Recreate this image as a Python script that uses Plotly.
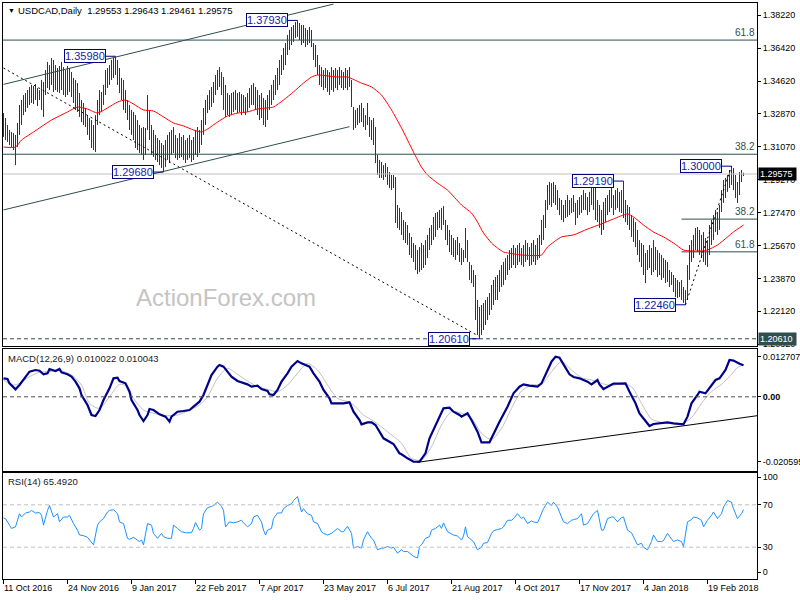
import plotly.graph_objects as go

# ---------------- data ----------------
highs = [
    1.3289,1.3262,1.3224,1.3197,1.3186,1.3180,1.3170,1.3235,1.3333,1.3360,
    1.3387,1.3398,1.3414,1.3431,1.3442,1.3436,1.3447,1.3425,1.3414,1.3469,
    1.3458,1.3523,1.3567,1.3550,1.3588,1.3578,1.3550,1.3534,1.3545,1.3567,
    1.3539,1.3523,1.3545,1.3534,1.3512,1.3480,1.3469,1.3452,1.3398,1.3360,
    1.3344,1.3317,1.3278,1.3262,1.3251,1.3224,1.3278,1.3360,1.3414,1.3404,
    1.3442,1.3523,1.3534,1.3550,1.3578,1.3588,1.3598,1.3578,1.3534,1.3480,
    1.3469,1.3414,1.3360,1.3333,1.3306,1.3295,1.3278,1.3251,1.3224,1.3208,
    1.3213,1.3208,1.3387,1.3306,1.3224,1.3197,1.3170,1.3153,1.3142,1.3126,
    1.3115,1.3142,1.3170,1.3186,1.3197,1.3213,1.3170,1.3153,1.3180,1.3159,
    1.3170,1.3142,1.3153,1.3170,1.3142,1.3159,1.3197,1.3213,1.3197,1.3251,
    1.3317,1.3360,1.3387,1.3414,1.3431,1.3458,1.3496,1.3523,1.3539,1.3512,
    1.3485,1.3442,1.3398,1.3387,1.3398,1.3404,1.3414,1.3398,1.3404,1.3393,
    1.3387,1.3376,1.3398,1.3425,1.3442,1.3452,1.3431,1.3414,1.3387,1.3398,
    1.3371,1.3360,1.3387,1.3414,1.3442,1.3469,1.3496,1.3534,1.3578,1.3605,
    1.3643,1.3670,1.3714,1.3741,1.3757,1.3768,1.3784,1.3793,1.3779,1.3768,
    1.3768,1.3752,1.3741,1.3757,1.3741,1.3670,1.3659,1.3605,1.3550,1.3539,
    1.3523,1.3534,1.3523,1.3512,1.3539,1.3523,1.3534,1.3523,1.3539,1.3523,
    1.3512,1.3534,1.3523,1.3539,1.3469,1.3322,1.3306,1.3317,1.3333,1.3344,
    1.3317,1.3278,1.3344,1.3268,1.3251,1.3262,1.3213,1.3061,1.3034,1.3023,
    1.3006,1.3017,1.2995,1.2968,1.2952,1.2952,1.2941,1.2789,1.2773,1.2751,
    1.2707,1.2696,1.2680,1.2637,1.2615,1.2582,1.2571,1.2544,1.2560,1.2582,
    1.2571,1.2598,1.2626,1.2664,1.2680,1.2724,1.2745,1.2751,1.2762,1.2773,
    1.2783,1.2707,1.2680,1.2653,1.2626,1.2609,1.2598,1.2615,1.2582,1.2555,
    1.2544,1.2664,1.2598,1.2479,1.2462,1.2435,1.2408,1.2272,1.2234,1.2245,
    1.2256,1.2272,1.2288,1.2310,1.2354,1.2381,1.2397,1.2408,1.2435,1.2462,
    1.2479,1.2500,1.2517,1.2544,1.2555,1.2571,1.2555,1.2571,1.2582,1.2555,
    1.2571,1.2598,1.2582,1.2560,1.2582,1.2598,1.2571,1.2609,1.2626,1.2707,
    1.2734,1.2816,1.2898,1.2914,1.2908,1.2914,1.2898,1.2870,1.2827,1.2816,
    1.2789,1.2816,1.2843,1.2816,1.2827,1.2843,1.2800,1.2816,1.2832,1.2843,
    1.2870,1.2854,1.2832,1.2860,1.2881,1.2898,1.2908,1.2816,1.2789,1.2762,
    1.2805,1.2827,1.2843,1.2870,1.2881,1.2843,1.2870,1.2881,1.2860,1.2870,
    1.2919,1.2816,1.2789,1.2778,1.2734,1.2718,1.2696,1.2653,1.2598,1.2582,
    1.2571,1.2528,1.2544,1.2571,1.2555,1.2598,1.2560,1.2544,1.2528,1.2517,
    1.2500,1.2490,1.2479,1.2435,1.2424,1.2408,1.2392,1.2381,1.2370,1.2381,
    1.2343,1.2326,1.2462,1.2571,1.2598,1.2626,1.2664,1.2669,1.2653,1.2626,
    1.2642,1.2609,1.2598,1.2680,1.2707,1.2734,1.2762,1.2751,1.2789,1.2870,
    1.2925,1.2936,1.2952,1.2979,1.3000,1.2990,1.2952,1.2914,1.2968,1.2979,
    1.29643,
]
lows = [
    1.3159,1.3142,1.3132,1.3115,1.3104,1.3088,1.3006,1.3104,1.3170,1.3224,
    1.3278,1.3295,1.3317,1.3333,1.3344,1.3338,1.3360,1.3327,1.3360,1.3306,
    1.3268,1.3387,1.3425,1.3414,1.3442,1.3404,1.3414,1.3404,1.3398,1.3414,
    1.3387,1.3376,1.3387,1.3404,1.3376,1.3344,1.3306,1.3295,1.3268,1.3240,
    1.3224,1.3213,1.3170,1.3142,1.3099,1.3088,1.3077,1.3224,1.3278,1.3295,
    1.3333,1.3387,1.3425,1.3442,1.3469,1.3480,1.3496,1.3442,1.3398,1.3360,
    1.3306,1.3289,1.3251,1.3197,1.3170,1.3142,1.3099,1.3088,1.3072,1.3061,
    1.3034,1.3061,1.3197,1.3142,1.3061,1.3050,1.3034,1.3023,1.3006,1.2990,
    1.2968,1.2995,1.3034,1.3017,1.3061,1.3072,1.3044,1.3034,1.3044,1.3050,
    1.3034,1.3017,1.3034,1.3044,1.3023,1.3034,1.3061,1.3050,1.3072,1.3115,
    1.3170,1.3224,1.3289,1.3306,1.3322,1.3344,1.3387,1.3414,1.3431,1.3387,
    1.3306,1.3268,1.3278,1.3268,1.3278,1.3295,1.3306,1.3289,1.3295,1.3278,
    1.3289,1.3278,1.3295,1.3317,1.3333,1.3333,1.3306,1.3278,1.3251,1.3262,
    1.3224,1.3213,1.3251,1.3306,1.3333,1.3360,1.3387,1.3414,1.3442,1.3496,
    1.3523,1.3550,1.3605,1.3632,1.3659,1.3676,1.3697,1.3703,1.3686,1.3659,
    1.3670,1.3648,1.3659,1.3670,1.3648,1.3578,1.3539,1.3496,1.3442,1.3431,
    1.3414,1.3425,1.3404,1.3387,1.3414,1.3404,1.3425,1.3414,1.3442,1.3425,
    1.3414,1.3425,1.3414,1.3431,1.3322,1.3197,1.3208,1.3224,1.3235,1.3240,
    1.3213,1.3197,1.3224,1.3159,1.3142,1.3115,1.3017,1.2952,1.2936,1.2936,
    1.2925,1.2941,1.2898,1.2881,1.2870,1.2881,1.2691,1.2664,1.2653,1.2626,
    1.2598,1.2582,1.2571,1.2517,1.2500,1.2479,1.2435,1.2413,1.2424,1.2435,
    1.2446,1.2462,1.2500,1.2544,1.2571,1.2598,1.2615,1.2653,1.2664,1.2653,
    1.2680,1.2598,1.2571,1.2533,1.2517,1.2506,1.2490,1.2517,1.2479,1.2462,
    1.2479,1.2500,1.2479,1.2381,1.2364,1.2343,1.2163,1.2082,1.2061,1.2082,
    1.2109,1.2136,1.2163,1.2190,1.2218,1.2245,1.2272,1.2272,1.2316,1.2343,
    1.2354,1.2381,1.2408,1.2435,1.2446,1.2462,1.2446,1.2462,1.2479,1.2462,
    1.2452,1.2479,1.2490,1.2457,1.2462,1.2479,1.2462,1.2490,1.2500,1.2571,
    1.2598,1.2664,1.2762,1.2789,1.2778,1.2800,1.2789,1.2762,1.2734,1.2707,
    1.2696,1.2718,1.2724,1.2734,1.2745,1.2751,1.2680,1.2718,1.2734,1.2745,
    1.2762,1.2762,1.2734,1.2751,1.2789,1.2762,1.2707,1.2696,1.2664,1.2626,
    1.2653,1.2696,1.2734,1.2751,1.2773,1.2734,1.2762,1.2773,1.2751,1.2745,
    1.2718,1.2696,1.2680,1.2653,1.2615,1.2588,1.2560,1.2517,1.2479,1.2452,
    1.2408,1.2364,1.2435,1.2446,1.2408,1.2424,1.2435,1.2397,1.2408,1.2381,
    1.2392,1.2364,1.2370,1.2343,1.2354,1.2316,1.2288,1.2283,1.2288,1.2272,
    1.2256,1.2246,1.2272,1.2381,1.2479,1.2500,1.2544,1.2533,1.2517,1.2500,
    1.2479,1.2462,1.2452,1.2517,1.2571,1.2598,1.2642,1.2626,1.2653,1.2751,
    1.2800,1.2827,1.2860,1.2881,1.2898,1.2870,1.2827,1.2800,1.2843,1.2914,
    1.29461,
]
assert len(highs) == len(lows)

ma_idx = [0,6,9,15,24,32,37,42,47,52,57,61,65,70,75,80,85,90,95,99,
          102,107,112,117,122,127,132,135,140,145,150,154,157,162,167,172,179,184,189,194,
          199,205,209,212,217,222,229,234,237,240,244,247,250,252,259,269,272,279,285,292,
          299,305,312,315,320,325,330,335,340,344,349,352,357,362,365,370]
ma_val = [1.3104,1.3104,1.3142,1.3186,1.3251,1.3295,1.3322,1.3311,1.3289,1.3317,
          1.3349,1.3360,1.3338,1.3306,1.3300,1.3268,1.3235,1.3219,1.3197,1.3186,
          1.3202,1.3240,1.3273,1.3289,1.3295,1.3311,1.3317,1.3322,1.3360,1.3404,
          1.3452,1.3485,1.3496,1.3491,1.3485,1.3485,1.3452,1.3431,1.3387,1.3306,
          1.3208,1.3077,1.2995,1.2952,1.2908,1.2870,1.2789,1.2745,1.2696,1.2637,
          1.2582,1.2555,1.2533,1.2528,1.2517,1.2517,1.2560,1.2615,1.2626,1.2658,
          1.2686,1.2713,1.2740,1.2724,1.2680,1.2642,1.2615,1.2582,1.2544,1.2539,
          1.2539,1.2544,1.2571,1.2615,1.2642,1.2680]

macd_idx = [0,2,3,6,8,11,13,16,18,20,22,23,26,28,29,32,34,36,38,39,42,44,46,48,50,53,55,57,58,61,
            63,64,67,68,70,72,73,75,77,78,81,83,84,87,90,93,95,98,100,102,104,107,108,110,112,114,117,119,122,124,
            127,129,132,133,135,137,139,142,144,147,149,153,155,158,160,163,164,167,170,173,175,178,179,182,184,186,188,190,193,195,
            198,199,202,205,208,211,213,217,220,223,225,228,229,232,234,237,239,243,245,248,252,255,258,260,263,267,269,272,274,276,
            278,280,283,285,288,292,294,297,298,300,303,305,308,311,313,316,318,321,323,325,328,332,335,338,340,342,344,347,348,351,
            353,356,358,361,363,365,368,370]
macd_val = [0.00586,0.00564,0.00427,0.00237,0.00374,0.00639,0.00797,0.00850,0.00829,0.00713,
            0.00744,0.00882,0.00818,0.00882,0.00776,0.00713,0.00639,0.00480,0.00269,0.00057,
            -0.00260,-0.00577,-0.00609,-0.00419,-0.00101,0.00269,0.00586,0.00607,0.00501,0.00427,
            0.00163,-0.00101,-0.00419,-0.00577,-0.00768,-0.00577,-0.00387,-0.00419,-0.00524,-0.00556,
            -0.00630,-0.00789,-0.00630,-0.00472,-0.00450,-0.00419,-0.00313,-0.00154,0.00057,0.00374,
            0.00691,0.00956,0.01009,0.00956,0.00797,0.00639,0.00501,0.00459,0.00395,0.00321,
            0.00353,0.00247,0.00184,0.00078,0.00057,0.00216,0.00480,0.00744,0.00956,0.01135,
            0.01061,0.00956,0.00744,0.00480,0.00216,-0.00049,-0.00207,-0.00207,-0.00207,-0.00175,
            -0.00472,-0.00736,-0.00873,-0.00810,-0.00810,-0.00894,-0.01106,-0.01317,-0.01423,-0.01497,
            -0.01793,-0.01824,-0.01951,-0.02057,-0.02060,-0.01792,-0.01317,-0.00789,-0.00366,-0.00345,
            -0.00472,-0.00577,-0.00630,-0.00524,-0.00736,-0.01106,-0.01444,-0.01444,-0.01159,-0.00789,
            -0.00313,0.00110,0.00321,0.00395,0.00353,0.00321,0.00427,0.00850,0.01114,0.01271,
            0.01241,0.01030,0.00713,0.00628,0.00586,0.00480,0.00395,0.00533,0.00395,0.00247,
            0.00353,0.00417,0.00417,0.00427,0.00163,-0.00207,-0.00524,-0.00789,-0.00926,-0.00862,
            -0.00841,-0.00810,-0.00841,-0.00873,-0.00873,-0.00630,-0.00207,0.00057,0.00163,0.00110,
            0.00290,0.00533,0.00586,0.00850,0.01167,0.01150,0.01050,0.01002]
assert len(macd_idx) == len(macd_val)

sig_idx = [0,5,8,13,18,23,28,34,39,43,48,53,58,62,65,70,75,82,87,92,
           98,102,107,112,117,122,127,132,137,142,147,152,157,162,167,172,175,180,185,192,
           199,204,209,214,219,224,229,234,239,244,249,254,259,264,269,274,279,284,289,294,
           299,304,309,314,319,324,329,334,339,344,349,354,359,364,367,370]
sig_val = [0.00533,0.00374,0.00427,0.00639,0.00776,0.00797,0.00829,0.00691,0.00374,-0.00207,
           -0.00366,0.00004,0.00395,0.00321,-0.00049,-0.00419,-0.00524,-0.00598,-0.00577,-0.00450,
           -0.00260,0.00004,0.00586,0.00903,0.00713,0.00501,0.00321,0.00237,0.00163,0.00374,
           0.00744,0.01061,0.00850,0.00374,-0.00049,-0.00154,-0.00260,-0.00577,-0.00768,-0.01106,
           -0.01476,-0.01951,-0.02004,-0.01581,-0.00894,-0.00472,-0.00524,-0.00683,-0.01159,-0.01349,
           -0.01000,-0.00366,0.00184,0.00374,0.00395,0.00797,0.01114,0.00850,0.00607,0.00533,
           0.00427,0.00353,0.00417,0.00321,-0.00207,-0.00704,-0.00810,-0.00841,-0.00862,-0.00662,
           -0.00207,0.00163,0.00395,0.00713,0.00930,0.01004]
assert len(sig_idx) == len(sig_val)

rsi_idx = [0,1,3,4,6,8,9,11,13,14,16,18,19,20,22,23,25,27,28,30,
           32,33,35,37,38,40,42,43,45,47,48,50,52,53,55,57,58,60,62,63,
           65,68,69,70,72,74,75,77,79,80,82,84,85,87,89,91,94,95,96,98,
           99,100,102,104,105,107,109,110,111,113,115,117,119,120,122,124,125,127,129,130,
           131,132,134,135,137,139,140,142,144,145,147,149,150,152,154,155,157,159,160,162,
           164,165,167,169,170,172,174,175,177,179,180,182,184,185,187,189,190,192,194,195,
           197,
           199,200,202,204,205,207,208,209,211,213,214,216,218,219,220,222,224,225,227,229,
           230,231,232,234,235,237,239,240,242,244,245,247,249,250,252,254,255,257,259,260,
           262,264,265,267,269,270,272,274,275,277,279,280,282,284,285,287,289,290,292,294,
           295,297,299,300,302,304,305,307,309,310,312,314,315,317,319,320,322,324,325,327,
           329,330,332,334,335,337,339,340,342,344,345,347,349,350,352,354,355,357,359,360,
           362,364,365,367,369,370]
rsi_val = [57.6,57.0,50.8,47.7,49.2,61.6,58.5,62.3,63.2,64.7,62.3,62.6,60.1,50.8,64.7,69.4,58.5,61.6,53.9,58.5,
           58.5,60.1,52.3,46.1,41.5,40.9,39.3,36.8,32.2,50.8,53.9,57.0,63.2,64.7,65.4,61.6,53.9,52.3,38.4,37.5,
           39.3,35.3,36.8,32.2,52.3,50.8,43.0,38.4,43.0,39.9,38.4,38.4,50.8,47.7,44.6,43.6,43.6,47.7,53.3,46.1,
           47.7,61.6,67.2,68.5,69.4,72.5,68.5,64.7,49.2,53.9,53.0,53.9,55.4,53.0,49.2,52.3,58.5,60.1,53.9,46.1,
           41.5,46.1,47.7,57.0,62.3,62.3,66.3,69.4,70.9,74.0,77.8,63.2,66.3,61.6,60.1,53.9,52.3,44.6,43.0,41.5,
           43.0,44.6,47.7,44.6,44.6,49.8,43.0,29.1,30.6,29.1,36.8,44.6,38.4,36.8,27.5,29.1,29.1,30.6,29.1,30.0,
           24.4,
           27.5,26.0,26.0,22.9,21.3,19.8,30.6,32.2,38.4,39.9,46.1,47.7,50.8,47.7,52.9,44.6,42.4,41.5,40.6,36.8,
           40.6,49.2,39.9,36.8,35.3,27.5,30.0,33.7,34.4,43.0,45.5,46.7,47.7,49.2,55.4,55.4,57.0,61.6,57.0,58.5,
           52.3,54.8,53.9,53.0,63.2,66.3,72.5,69.4,72.5,67.8,58.5,53.9,52.3,55.4,56.0,57.0,61.6,50.8,52.3,58.5,
           61.6,64.7,46.1,46.1,57.0,58.5,58.5,53.9,57.9,58.5,46.1,43.6,39.9,32.2,33.7,30.0,27.5,35.3,41.5,35.3,
           35.3,36.2,43.0,38.4,35.3,36.8,35.3,30.6,53.9,56.1,58.5,57.6,55.4,49.2,55.4,60.1,63.2,57.0,61.6,67.8,
           74.0,72.5,66.3,57.0,61.6,65.49]
assert len(rsi_idx) == len(rsi_val)

date_labels = ["11 Oct 2016", "24 Nov 2016", "9 Jan 2017", "22 Feb 2017", "7 Apr 2017", "23 May 2017",
               "6 Jul 2017", "21 Aug 2017", "4 Oct 2017", "17 Nov 2017", "4 Jan 2018", "19 Feb 2018"]
date_pos = [0, 32, 64, 96, 128, 160, 192, 224, 256, 288, 320, 352]

price_ticks = [1.38220, 1.36420, 1.34620, 1.32870, 1.31070, 1.29270, 1.27470, 1.25670, 1.23870, 1.22120, 1.20320]

swing_text = ["1.37930", "1.35980", "1.29680", "1.20610", "1.29190", "1.22460", "1.30000"]
swing_price = [1.3793, 1.3598, 1.2968, 1.2061, 1.2919, 1.2246, 1.3000]
swing_bar = [147, 56, 80, 238, 310, 341, 364]

fib_long_lvl = [1.3686, 1.3065]
fib_long_txt = ["61.8", "38.2"]
fib_short_lvl = [1.2712, 1.2534]
fib_short_txt = ["38.2", "61.8"]
fib_short_start = 339

last_price = 1.29575
low_level = 1.2061

# --------------- figure ---------------
W, H = 800, 600
ML, MR, MT, MB = 3, 43, 3, 21
PW, PH = W - ML - MR, H - MT - MB
XR = [-0.25, -0.25 + PW / 2.0]


def px_x(px):
    return (px - ML) / PW


def px_y(py):
    return (H - MB - py) / PH


FONT = "Liberation Sans, Arial, sans-serif"
BARC = "#1c3a55"
DSG = "#2f4f4f"
NAVY = "#000080"

fig = go.Figure()

bx, by = [], []
for i, (h, l) in enumerate(zip(highs, lows)):
    bx += [i, i, None]
    by += [l, h, None]
fig.add_trace(go.Scatter(x=bx, y=by, mode="lines", line=dict(color=BARC, width=1),
                         xaxis="x", yaxis="y", hoverinfo="skip"))
fig.add_trace(go.Scatter(x=ma_idx, y=ma_val, mode="lines",
                         line=dict(color="#ff0000", width=1, shape="spline", smoothing=0.6),
                         xaxis="x", yaxis="y"))

fig.add_trace(go.Scatter(x=sig_idx, y=sig_val, mode="lines",
                         line=dict(color="#c0c0c0", width=1, shape="spline", smoothing=0.8),
                         xaxis="x2", yaxis="y2"))
fig.add_trace(go.Scatter(x=macd_idx, y=macd_val, mode="lines",
                         line=dict(color="#00008b", width=2.2),
                         xaxis="x2", yaxis="y2"))

fig.add_trace(go.Scatter(x=rsi_idx, y=rsi_val, mode="lines",
                         line=dict(color="#1e90ff", width=1),
                         xaxis="x3", yaxis="y3"))

shapes = []
for lv in fib_long_lvl:
    shapes.append(dict(type="line", xref="x", yref="y", x0=XR[0], x1=XR[1], y0=lv, y1=lv,
                       line=dict(color=DSG, width=1)))
for lv in fib_short_lvl:
    shapes.append(dict(type="line", xref="x", yref="y", x0=fib_short_start, x1=XR[1], y0=lv, y1=lv,
                       line=dict(color=DSG, width=1)))
shapes.append(dict(type="line", xref="x", yref="y", x0=XR[0], x1=XR[1], y0=last_price, y1=last_price,
                   line=dict(color="#c0c0c0", width=1)))
shapes.append(dict(type="line", xref="x", yref="y", x0=XR[0], x1=XR[1], y0=low_level, y1=low_level,
                   line=dict(color=DSG, width=1, dash="4px,3px")))
# channel
shapes.append(dict(type="line", xref="x", yref="y", x0=0, y0=1.3445, x1=165, y1=1.3882,
                   line=dict(color=DSG, width=1)))
shapes.append(dict(type="line", xref="x", yref="y", x0=0, y0=1.2762, x1=173, y1=1.3215,
                   line=dict(color=DSG, width=1)))
# dotted trend lines
shapes.append(dict(type="line", xref="x", yref="y", x0=0, y0=1.3534, x1=237.5, y1=1.2076,
                   line=dict(color="black", width=1, dash="2px,3px")))
shapes.append(dict(type="line", xref="x", yref="y", x0=341, y0=1.2246, x1=364, y1=1.3000,
                   line=dict(color="black", width=1, dash="2px,3px")))
# connectors for swing labels
for p, b in zip(swing_price, swing_bar):
    shapes.append(dict(type="line", xref="x", yref="y", x0=b - 5, x1=b, y0=p, y1=p,
                       line=dict(color=NAVY, width=1)))
# MACD
shapes.append(dict(type="line", xref="x2", yref="y2", x0=XR[0], x1=XR[1], y0=0, y1=0,
                   line=dict(color="#505050", width=1, dash="4px,3px")))
shapes.append(dict(type="line", xref="x2", yref="y2", x0=207, y0=-0.02077, x1=XR[1], y1=-0.0060,
                   line=dict(color="black", width=1)))
# RSI levels
for lv in (70, 30):
    shapes.append(dict(type="line", xref="x3", yref="y3", x0=XR[0], x1=XR[1], y0=lv, y1=lv,
                       line=dict(color="#c0c0c0", width=1, dash="4px,3px")))

ann = []
for t, p, b in zip(swing_text, swing_price, swing_bar):
    ann.append(dict(x=b - 5, y=p, xref="x", yref="y", text=t, showarrow=False,
                    xanchor="right", yanchor="middle", bgcolor="white", bordercolor=NAVY,
                    borderwidth=1, borderpad=0, font=dict(family=FONT, size=11, color="#1a1aa6")))
for t, lv in zip(fib_long_txt, fib_long_lvl):
    ann.append(dict(x=1, y=lv, xref="paper", yref="y", text=t, showarrow=False, xanchor="right",
                    yanchor="bottom", font=dict(family=FONT, size=10, color=DSG)))
for t, lv in zip(fib_short_txt, fib_short_lvl):
    ann.append(dict(x=1, y=lv, xref="paper", yref="y", text=t, showarrow=False, xanchor="right",
                    yanchor="bottom", font=dict(family=FONT, size=10, color=DSG)))
ann.append(dict(x=1, y=last_price, xref="paper", yref="y", text="1.29575 ", showarrow=False,
                xanchor="left", yanchor="middle", xshift=1, bgcolor="black", borderpad=1,
                font=dict(family=FONT, size=9, color="white")))
ann.append(dict(x=1, y=low_level, xref="paper", yref="y", text="1.20610 ", showarrow=False,
                xanchor="left", yanchor="middle", xshift=1, bgcolor="#2f4f4f", borderpad=1,
                font=dict(family=FONT, size=9, color="white")))
ann.append(dict(x=px_x(226), y=px_y(297), xref="paper", yref="paper", text="ActionForex.com",
                xanchor="center", yanchor="middle",
                showarrow=False, font=dict(family=FONT, size=24, color="#c4c4c4")))
ann.append(dict(x=px_x(6), y=px_y(10), xref="paper", yref="paper", text="▼", showarrow=False,
                xanchor="left", yanchor="middle", font=dict(family=FONT, size=7, color="black")))
ann.append(dict(x=px_x(16), y=px_y(10), xref="paper", yref="paper",
                text="USDCAD,Daily  1.29553 1.29643 1.29461 1.29575", showarrow=False,
                xanchor="left", yanchor="middle", font=dict(family=FONT, size=9.5, color="black")))
ann.append(dict(x=px_x(6), y=px_y(358), xref="paper", yref="paper",
                text="MACD(12,26,9) 0.010022 0.010043", showarrow=False,
                xanchor="left", yanchor="middle", font=dict(family=FONT, size=9.5, color="#202020")))
ann.append(dict(x=px_x(6), y=px_y(481), xref="paper", yref="paper",
                text="RSI(14) 65.4920", showarrow=False,
                xanchor="left", yanchor="middle", font=dict(family=FONT, size=9.5, color="#202020")))
for t, p in zip(date_labels, date_pos):
    ann.append(dict(x=p, y=px_y(588), xref="x3", yref="paper", text=t, showarrow=False,
                    xanchor="left", yanchor="middle", xshift=-2,
                    font=dict(family=FONT, size=9, color="black")))

axis_common = dict(showline=True, mirror=True, linecolor="black", linewidth=1,
                   showgrid=False, zeroline=False, automargin=False)
xcommon = dict(axis_common, range=XR, showticklabels=False, fixedrange=True)

fig.update_layout(
    template="none",
    width=W, height=H, margin=dict(l=ML, r=MR, t=MT, b=MB, pad=0, autoexpand=False),
    paper_bgcolor="white", plot_bgcolor="white", showlegend=False,
    font=dict(family=FONT, size=9, color="black"),
    xaxis=dict(xcommon, anchor="y", domain=[0, 1], ticks=""),
    xaxis2=dict(xcommon, anchor="y2", domain=[0, 1], ticks=""),
    xaxis3=dict(xcommon, anchor="y3", domain=[0, 1], ticks="outside", ticklen=4,
                tickcolor="black", tickvals=date_pos),
    yaxis=dict(axis_common, anchor="x", side="right", domain=[px_y(346), 1.0],
               range=[1.20218, 1.38877], tickvals=price_ticks,
               ticktext=["%.5f" % v for v in price_ticks], ticks="outside", ticklen=3,
               tickcolor="black", tickfont=dict(family=FONT, size=9)),
    yaxis2=dict(axis_common, anchor="x2", side="right", domain=[px_y(471), px_y(349)],
                range=[-0.02353, 0.01516], tickvals=[0.012707, 0.0, -0.020595],
                ticktext=["0.012707", "<b>0.00</b>", "-0.020595"], ticks="outside", ticklen=3,
                tickcolor="black", tickfont=dict(family=FONT, size=9)),
    yaxis3=dict(axis_common, anchor="x3", side="right", domain=[0, px_y(473)],
                range=[0, 100], tickvals=[96, 70, 30, 6.5], ticktext=["100", "70", "30", "0"],
                ticks="outside", ticklen=3, tickcolor="black", tickfont=dict(family=FONT, size=9)),
    shapes=shapes, annotations=ann,
)

fig.write_html("out.html", config={"displayModeBar": False},
               post_script="document.body.style.margin='0';document.body.style.padding='0';")
